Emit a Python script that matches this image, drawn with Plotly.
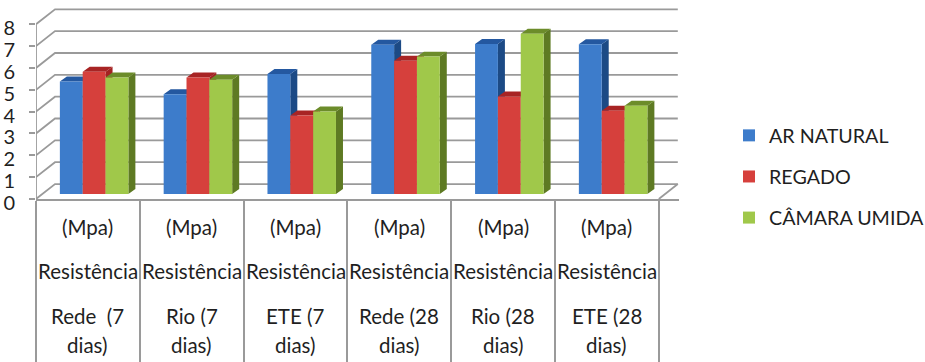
import plotly.graph_objects as go

# ---- data ----
categories = [
    ["(Mpa)", "Resistência", "Rede\u00a0\u00a0(7", "dias)"],
    ["(Mpa)", "Resistência", "Rio (7", "dias)"],
    ["(Mpa)", "Resistência", "ETE (7", "dias)"],
    ["(Mpa)", "Resistência", "Rede (28", "dias)"],
    ["(Mpa)", "Resistência", "Rio (28", "dias)"],
    ["(Mpa)", "Resistência", "ETE (28", "dias)"],
]
ar_natural = [5.15, 4.57, 5.49, 6.83, 6.87, 6.86]
regado = [5.60, 5.33, 3.60, 6.10, 4.47, 3.81]
camara_umida = [5.33, 5.23, 3.78, 6.29, 7.34, 4.04]
y_ticks = [0, 1, 2, 3, 4, 5, 6, 7, 8]

series = [
    ("AR NATURAL", ar_natural, "#3D7CCB", "#1C4A85", "#2458A0"),
    ("REGADO", regado, "#D6403C", "#A32222", "#A82424"),
    ("CÂMARA UMIDA", camara_umida, "#A0C84A", "#5E7A23", "#6C8C2A"),
]

# ---- layout constants (pixels on the 925x362 page) ----
FONT = "Lato"
TEXT = "#1f1f1f"
GRID = "#9a9a9a"
W, H = 925, 362
PX_X = 103.8   # pixels per category
PX_Y = 21.9    # pixels per value unit
ML, MR, MT, MB = 36, 246, 8, 162.5
X_RANGE = [-0.5, -0.5 + (W - ML - MR) / PX_X]
Y_RANGE = [0, (H - MT - MB) / PX_Y]

WALL_DX, WALL_DY = 19 / PX_X, 15 / PX_Y
BAR_DX, BAR_DY = 7 / PX_X, 5 / PX_Y
BAR_W = 0.22
BAR_START = -0.27
BASE = BAR_DY

fig = go.Figure()

# walls: diagonal + back gridline for each tick
grid_x, grid_y = [], []
x_left = X_RANGE[0]
x_right_front = len(categories) - 0.5
for v in y_ticks:
    grid_x += [x_left, x_left + WALL_DX, x_right_front + WALL_DX, None]
    grid_y += [v, v + WALL_DY, v + WALL_DY, None]
grid_x += [x_right_front, x_right_front + WALL_DX, None, x_left, x_left]
grid_y += [0, WALL_DY, None, 0, y_ticks[-1]]
fig.add_trace(go.Scatter(x=grid_x, y=grid_y, mode="lines", showlegend=False,
                         line=dict(color=GRID, width=1.8), hoverinfo="skip", cliponaxis=False))


def overlay_axes(n):
    common = dict(visible=False, fixedrange=True)
    fig.update_layout({
        f"xaxis{n}": dict(range=X_RANGE, overlaying="x", anchor=f"y{n}", **common),
        f"yaxis{n}": dict(range=Y_RANGE, overlaying="y", anchor=f"x{n}", **common),
    })


axis_n = 2
for j, (name, vals, front, side, top) in enumerate(series):
    offset = BAR_START + j * BAR_W
    side_x, side_y, top_x, top_y = [], [], [], []
    for i, v in enumerate(vals):
        L = i + offset
        R = L + BAR_W
        side_x += [R, R + BAR_DX, R + BAR_DX, R, R, None]
        side_y += [BASE, BASE + BAR_DY, v + BASE + BAR_DY, v + BASE, BASE, None]
        top_x += [L, R, R + BAR_DX, L + BAR_DX, L, None]
        top_y += [v + BASE, v + BASE, v + BASE + BAR_DY, v + BASE + BAR_DY, v + BASE, None]
    overlay_axes(axis_n)
    for xs, ys, col in ((side_x, side_y, side), (top_x, top_y, top)):
        fig.add_trace(go.Scatter(x=xs, y=ys, mode="lines", fill="toself", fillcolor=col,
                                 line=dict(width=0, color=col), showlegend=False, hoverinfo="skip",
                                 xaxis=f"x{axis_n}", yaxis=f"y{axis_n}"))
    axis_n += 1
    overlay_axes(axis_n)
    fig.add_trace(go.Bar(x=list(range(len(vals))), y=vals, base=BASE, name=name, width=BAR_W,
                         offset=offset, marker=dict(color=front, line=dict(width=0)),
                         legendgroup=name, xaxis=f"x{axis_n}", yaxis=f"y{axis_n}"))
    axis_n += 1

# category table text
row_px = [228, 272, 317, 346]
plot_h = H - MT - MB
annotations = []
for i, rows in enumerate(categories):
    for text, py in zip(rows, row_px):
        annotations.append(dict(x=i, y=1 - (py - MT) / plot_h, xref="x", yref="paper",
                                text=text, showarrow=False, xanchor="center", yanchor="middle",
                                font=dict(family=FONT, size=20.5, color=TEXT)))

fig.update_layout(
    width=W, height=H, autosize=False,
    margin=dict(l=ML, r=MR, t=MT, b=MB, pad=0, autoexpand=False),
    paper_bgcolor="white", plot_bgcolor="white",
    barmode="overlay",
    xaxis=dict(range=X_RANGE, showgrid=False, zeroline=False, showline=True, linecolor=GRID, linewidth=2,
               tickmode="array", tickvals=[i - 0.5 for i in range(len(categories) + 1)],
               showticklabels=False, ticks="outside", ticklen=164, tickwidth=2, tickcolor=GRID,
               fixedrange=True),
    yaxis=dict(range=Y_RANGE, showgrid=False, zeroline=False, showline=False,
               tickmode="array", tickvals=y_ticks, ticks="outside", ticklen=6, tickwidth=1.5,
               tickcolor=GRID, ticklabelstandoff=10, ticklabelshift=4, fixedrange=True,
               tickfont=dict(family=FONT, size=20, color=TEXT)),
    legend=dict(x=(729 - ML) / (W - ML - MR), y=1 - (177 - MT) / plot_h, xanchor="left", yanchor="middle",
                font=dict(family=FONT, size=19.7, color=TEXT), tracegroupgap=12.5,
                bgcolor="rgba(0,0,0,0)", itemclick=False, itemdoubleclick=False),
    annotations=annotations,
)

fig.write_html("out.html", config={"displayModeBar": False},
               post_script="document.body.style.margin='0';document.body.style.overflow='hidden';")
